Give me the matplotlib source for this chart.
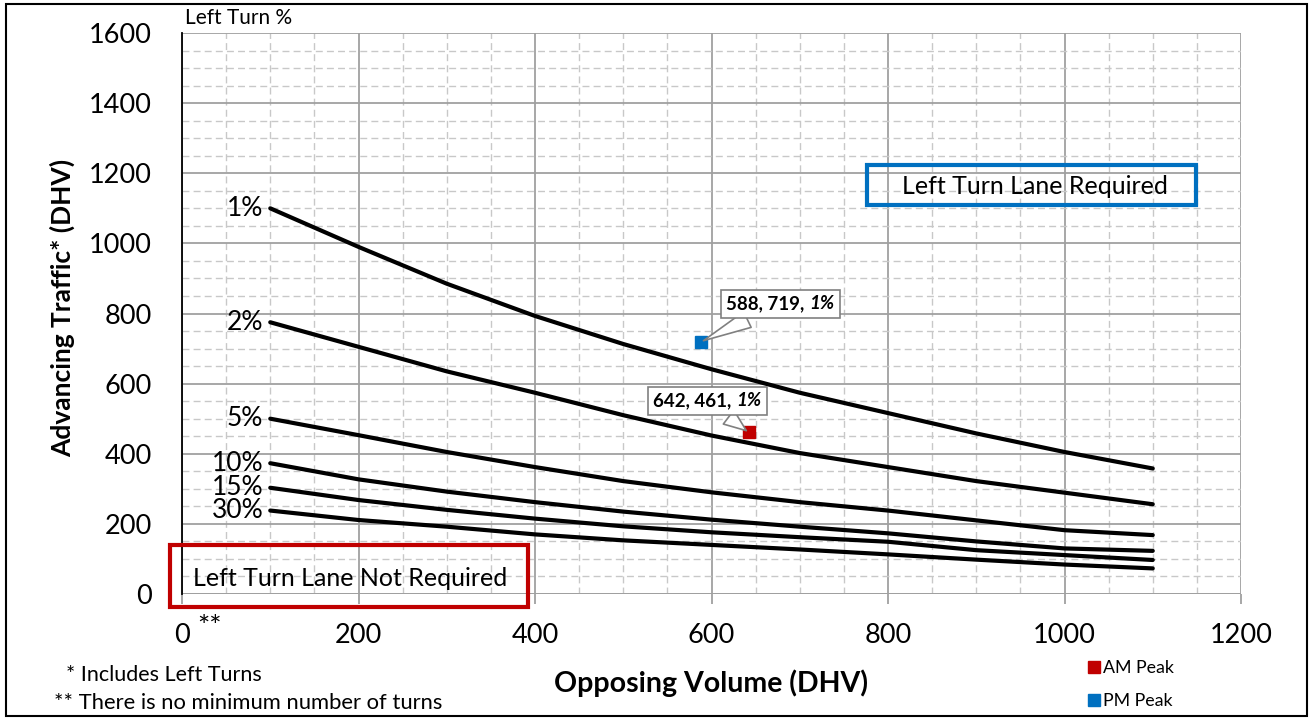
import matplotlib
matplotlib.use("Agg")
import matplotlib.pyplot as plt
from matplotlib.patches import Rectangle
from matplotlib.offsetbox import TextArea, HPacker, AnnotationBbox
from matplotlib.lines import Line2D
import numpy as np

plt.rcParams['font.family'] = ['Lato', 'DejaVu Sans']

# Curve data (opposing volume vs advancing traffic) per left-turn %
opposing = [100, 200, 300, 400, 500, 600, 700, 800, 900, 1000, 1100]
curve_labels = ["1%", "2%", "5%", "10%", "15%", "30%"]
curve_1 = [1100, 990, 885, 793, 713, 641, 574, 516, 458, 405, 358]
curve_2 = [775, 705, 635, 574, 510, 452, 402, 362, 322, 289, 256]
curve_5 = [500, 453, 405, 362, 322, 290, 262, 238, 210, 182, 168]
curve_10 = [373, 327, 292, 262, 235, 212, 192, 173, 150, 130, 123]
curve_15 = [303, 268, 240, 215, 193, 176, 162, 149, 125, 111, 97]
curve_30 = [238, 211, 192, 170, 153, 140, 127, 113, 98, 84, 73]
curves = [curve_1, curve_2, curve_5, curve_10, curve_15, curve_30]

# Observed points
am_x, am_y, am_pct = 642, 461, "1%"
pm_x, pm_y, pm_pct = 588, 719, "1%"

x_ticks = [0, 200, 400, 600, 800, 1000, 1200]
y_ticks = [0, 200, 400, 600, 800, 1000, 1200, 1400, 1600]

W, H = 1310, 720
fig = plt.figure(figsize=(W / 100, H / 100), dpi=100)
ax = fig.add_axes([182 / W, 1 - 594 / H, (1241 - 182) / W, (594 - 33) / H])

ax.set_xlim(0, 1200)
ax.set_ylim(0, 1600)
ax.set_xticks(x_ticks)
ax.set_yticks(y_ticks)
ax.set_xticks(np.arange(0, 1201, 50), minor=True)
ax.set_yticks(np.arange(0, 1601, 50), minor=True)
ax.grid(which='minor', color='#C8C8C8', linestyle=(0, (5, 3)), linewidth=1.0)
ax.grid(which='major', color='#A0A0A0', linestyle='-', linewidth=1.3)
ax.set_axisbelow(True)
for s in ['top', 'right', 'bottom']:
    ax.spines[s].set_visible(False)
ax.spines['left'].set_color('black')
ax.spines['left'].set_linewidth(1.3)
ax.tick_params(axis='x', which='major', length=7.2, color='#A0A0A0', width=1.3,
               labelsize=19.5, pad=14)
ax.tick_params(axis='x', which='minor', length=0)
ax.tick_params(axis='y', which='both', length=0, labelsize=19.5, pad=21.5)
ax.axhline(0, color='#A0A0A0', lw=1.3, zorder=1)

for lab, vals in zip(curve_labels, curves):
    ax.plot(opposing, vals, color='black', lw=3, solid_capstyle='round', zorder=3)
    ax.annotate(lab, (opposing[0], vals[0]), xytext=(-5, 0), textcoords='offset points',
                ha='right', va='center', fontsize=19, zorder=4)

ax.plot([am_x], [am_y], marker='s', ms=9, color='#C00000', ls='none', zorder=5)
ax.plot([pm_x], [pm_y], marker='s', ms=9, color='#0070C0', ls='none', zorder=5)


def callout(x, y, pct, bx, by):
    t1 = TextArea(f"{x}, {y}, ", textprops=dict(fontsize=13.5, fontweight='bold'))
    t2 = TextArea(pct, textprops=dict(fontsize=13.5, fontweight='bold', fontstyle='italic'))
    box = HPacker(children=[t1, t2], align='baseline', pad=0, sep=0)
    ab = AnnotationBbox(box, (x, y), xybox=(bx, by), xycoords='data', boxcoords='data',
                        pad=0.4, bboxprops=dict(ec='#808080', fc='white', lw=1.2),
                        arrowprops=dict(arrowstyle='wedge,tail_width=0.9,shrink_factor=0.5',
                                        fc='white', ec='#808080', lw=1.2),
                        zorder=6)
    ax.add_artist(ab)


callout(pm_x, pm_y, pm_pct, 678, 828)
callout(am_x, am_y, am_pct, 595, 551)

# Region boxes (figure pixel coords)
def fig_rect(x0, y0, x1, y1, color):
    r = Rectangle((x0 / W, 1 - y1 / H), (x1 - x0) / W, (y1 - y0) / H,
                  transform=fig.transFigure, fill=False, ec=color, lw=3, zorder=10)
    fig.add_artist(r)

fig_rect(867, 165, 1196, 205, '#0070C0')
fig.text(1035 / W, 1 - 186 / H, "Left Turn Lane Required", ha='center', va='center', fontsize=18)
fig_rect(170, 545, 528, 607, '#C00000')
fig.text(193 / W, 1 - 578 / H, "Left Turn Lane Not Required", ha='left', va='center', fontsize=18)

# Labels
fig.text(62 / W, 1 - 308 / H, "Advancing Traffic* (DHV)", rotation=90, ha='center',
         va='center', fontsize=19, fontweight='bold')
fig.text(711 / W, 1 - 683 / H, "Opposing Volume (DHV)", ha='center', va='center',
         fontsize=20.5, fontweight='bold')
fig.text(185 / W, 1 - 18 / H, "Left Turn %", ha='left', va='center', fontsize=15)
fig.text(197 / W, 1 - 628 / H, "**", ha='left', va='center', fontsize=21)
fig.text(66 / W, 1 - 675 / H, "* Includes Left Turns", ha='left', va='center', fontsize=15.5)
fig.text(54 / W, 1 - 703 / H, "** There is no minimum number of turns", ha='left', va='center',
         fontsize=15.8)

handles = [Line2D([], [], marker='s', ms=9, color='#C00000', ls='none'),
           Line2D([], [], marker='s', ms=9, color='#0070C0', ls='none')]
fig.legend(handles, ["AM Peak", "PM Peak"], loc='upper left',
           bbox_to_anchor=(1079 / W, 1 - 651 / H), frameon=False, fontsize=12.8,
           handlelength=0.7, handletextpad=0.15, labelspacing=0.95, borderpad=0)

fig.add_artist(Rectangle((6 / W, 1 - 716 / H), (1307 - 6) / W, (716 - 4) / H,
                         transform=fig.transFigure, fill=False, ec='black', lw=1.5))

fig.savefig("out.png", dpi=100)
